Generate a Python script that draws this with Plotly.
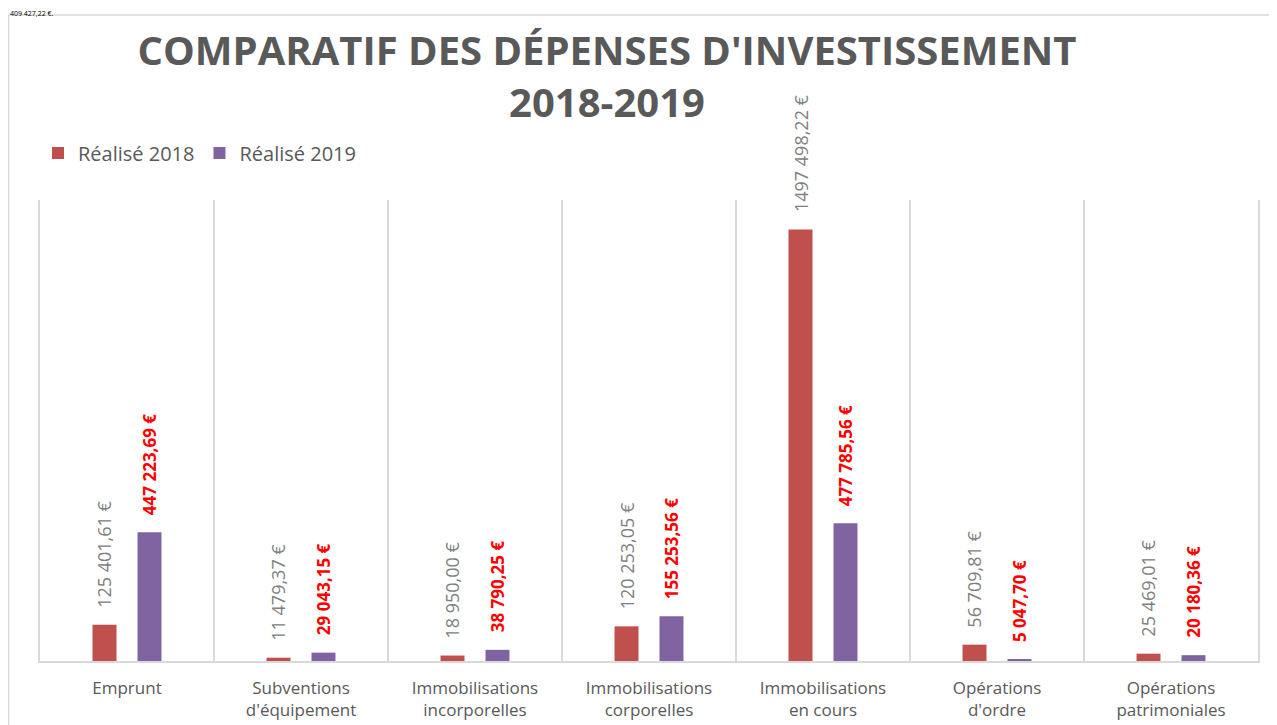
import plotly.graph_objects as go

categories = ["Emprunt", "Subventions<br>d'équipement", "Immobilisations<br>incorporelles",
              "Immobilisations<br>corporelles", "Immobilisations<br>en cours",
              "Opérations<br>d'ordre", "Opérations<br>patrimoniales"]
realise_2018 = [125401.61, 11479.37, 18950.00, 120253.05, 1497498.22, 56709.81, 25469.01]
realise_2019 = [447223.69, 29043.15, 38790.25, 155253.56, 477785.56, 5047.70, 20180.36]
series_names = ["Réalisé 2018", "Réalisé 2019"]
title_text = "COMPARATIF DES DÉPENSES D'INVESTISSEMENT<br>2018-2019"
top_fragment = "409 427,22 €."

def fr(v):
    cents = round(v * 100)
    ent, dec = divmod(cents, 100)
    if ent >= 1000:
        s = f"{ent // 1000} {ent % 1000:03d}"
    else:
        s = str(ent)
    return f"{s},{dec:02d} €"

# page has an 8px body margin: figure coords = screen coords - 8
W, H = 1269, 717
L, R, T, B = 32, 19, 192, 64
pw = W - L - R
ph = H - T - B

fig = go.Figure()
fig.add_trace(go.Bar(x=categories, y=realise_2018, name=series_names[0],
                     marker=dict(color="#c0504d", line=dict(width=0))))
fig.add_trace(go.Bar(x=categories, y=realise_2019, name=series_names[1],
                     marker=dict(color="#8064a2", line=dict(width=0))))

annotations = []
for c, v in zip(categories, realise_2018):
    annotations.append(dict(x=c, y=v, xref="x", yref="y", text=fr(v), textangle=-90,
                            showarrow=False, xanchor="center", yanchor="bottom",
                            xshift=-22.5, yshift=15,
                            font=dict(family="Open Sans", size=18, color="#808080")))
for c, v in zip(categories, realise_2019):
    annotations.append(dict(x=c, y=v, xref="x", yref="y", text="<b>" + fr(v) + "</b>", textangle=-90,
                            showarrow=False, xanchor="center", yanchor="bottom",
                            xshift=22.5, yshift=15,
                            font=dict(family="Open Sans", size=17, color="#ff0000")))
annotations.append(dict(x=(0 - L) / pw, y=1 + (T + 1) / ph, xref="paper", yref="paper",
                        text=top_fragment, showarrow=False, xanchor="left", yanchor="top",
                        font=dict(family="Open Sans", size=7, color="#000000")))

shapes = [dict(type="rect", xref="paper", yref="paper",
               x0=(0.5 - L) / pw, x1=(1262 - L) / pw,
               y0=-(H + 20 - T - ph) / ph, y1=1 + (T - 7) / ph,
               line=dict(color="#d9d9d9", width=1.5), fillcolor="rgba(0,0,0,0)", layer="below")]

fig.update_layout(
    width=W, height=H,
    margin=dict(l=L, r=R, t=T, b=B, autoexpand=False),
    paper_bgcolor="white", plot_bgcolor="white",
    barmode="group", bargap=0.483, bargroupgap=0.467,
    title=dict(text="<b>" + title_text + "</b>", x=599 / W, xanchor="center",
               y=1 - 57 / H, yanchor="middle",
               font=dict(family="Open Sans", size=40, color="#595959")),
    legend=dict(orientation="h", x=(30 - L) / pw, y=1 + (T - 145) / ph,
                xanchor="left", yanchor="middle",
                font=dict(family="Open Sans", size=20, color="#595959"),
                traceorder="normal"),
    xaxis=dict(type="category", tickson="boundaries", showgrid=True, gridcolor="#d9d9d9",
               gridwidth=1.5, showline=True, linecolor="#d9d9d9", linewidth=1.5,
               ticks="", ticklabelstandoff=11, automargin=False,
               tickfont=dict(family="Open Sans", size=17, color="#595959"),
               fixedrange=True),
    yaxis=dict(range=[0, 1600000], showticklabels=False, showgrid=False, zeroline=False,
               showline=True, mirror=True, linecolor="#d9d9d9", linewidth=1.5, ticks="",
               automargin=False),
    annotations=annotations,
    shapes=shapes,
    showlegend=True,
)
fig.write_html("out.html")
